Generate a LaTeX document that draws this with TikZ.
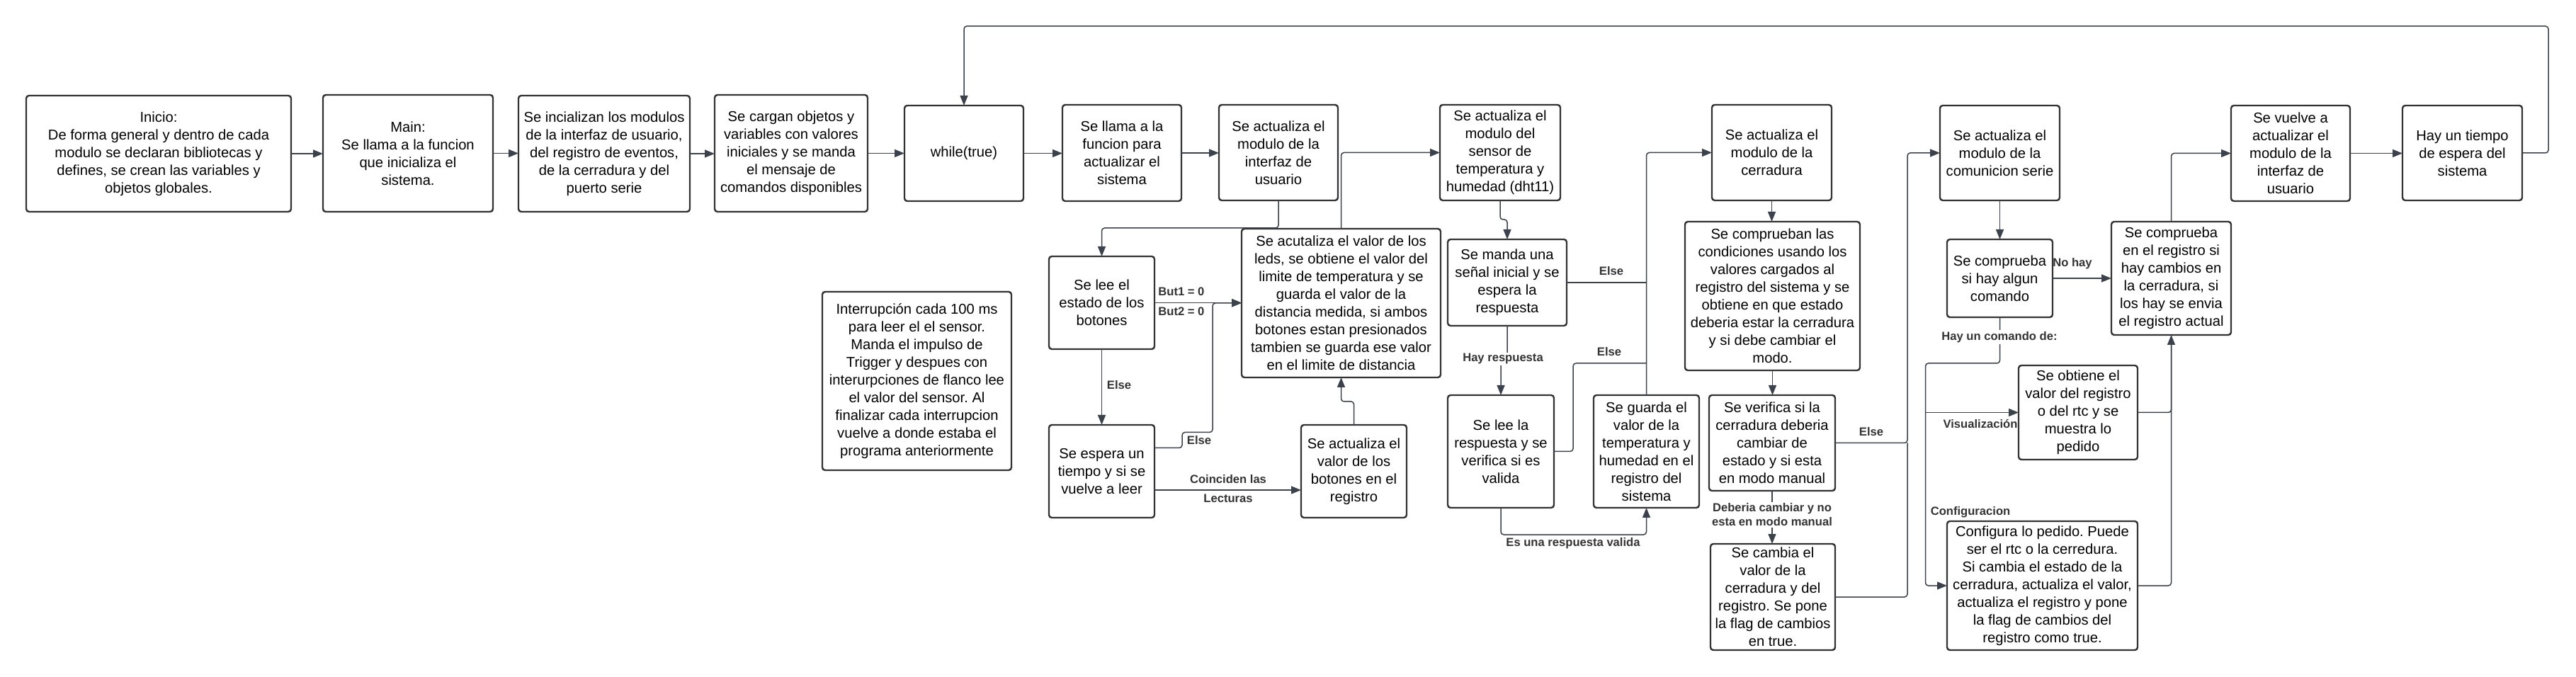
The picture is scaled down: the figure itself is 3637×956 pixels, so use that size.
\documentclass[tikz,border=0pt]{standalone}
\usepackage{fontspec}
\setmainfont{Liberation Sans}
\usetikzlibrary{arrows.meta,calc}
\definecolor{bxc}{RGB}{51,51,51}
\definecolor{lnc}{RGB}{60,66,75}
\definecolor{lbc}{RGB}{51,51,51}
\frenchspacing
\newcommand\mkbox[6]{\node[box, minimum width={(#4-#2)*0.5pt}, minimum height={(#5-#3)*0.5pt}] (#1) at ({(#2+#4)/2},{(#3+#5)/2}) {#6};}
\begin{document}
\begin{tikzpicture}[x=0.5pt,y=-0.5pt,
  box/.style={draw=bxc, line width=1.2pt, rounded corners=2pt, fill=white, align=center, inner sep=0pt, outer sep=0pt, font=\fontsize{10.1pt}{12.5pt}\selectfont},
  conn/.style={draw=lnc, line width=0.75pt, rounded corners=2pt, -{Triangle[length=7pt,width=5.5pt]}},
  plain/.style={draw=lnc, line width=0.75pt, rounded corners=2pt},
  lbl/.style={text=lbc, font=\fontsize{8.3pt}{10pt}\selectfont\bfseries, inner sep=1pt, align=center},
  lblw/.style={lbl, fill=white}]
\fill[white] (0,0) rectangle (3637,956);
\useasboundingbox (0,0) rectangle (3637,956);

% top row
\mkbox{A}{37}{135}{411}{299}{Inicio:\\De forma general y dentro de cada\\modulo se declaran bibliotecas y\\defines, se crean las variables y\\objetos globales.}
\mkbox{B}{456}{134}{696}{299}{Main:\\Se llama a la funcion\\que inicializa el\\sistema.}
\mkbox{C}{732}{135}{974}{299}{Se incializan los modulos\\de la interfaz de usuario,\\del registro de eventos,\\de la cerradura y del\\puerto serie}
\mkbox{D}{1009}{134}{1225}{299}{Se cargan objetos y\\variables con valores\\iniciales y se manda\\el mensaje de\\comandos disponibles}
\mkbox{E}{1277}{149}{1445}{284}{while(true)}
\mkbox{F}{1500}{148}{1668}{284}{Se llama a la\\funcion para\\actualizar el\\sistema}
\mkbox{G}{1721}{148}{1889}{283}{Se actualiza el\\modulo de la\\interfaz de\\usuario}
\mkbox{H}{2033}{148}{2203}{283}{Se actualiza el\\modulo del\\sensor de\\temperatura y\\humedad (dht11)}
\mkbox{I}{2417}{148}{2586}{283}{Se actualiza el\\modulo de la\\cerradura}
\mkbox{J}{2739}{149}{2908}{283}{Se actualiza el\\modulo de la\\comunicion serie}
\mkbox{K}{3150}{149}{3318}{284}{Se vuelve a\\actualizar el\\modulo de la\\interfaz de\\usuario}
\mkbox{L}{3392}{149}{3561}{283}{Hay un tiempo\\de espera del\\sistema}

% lower boxes
\mkbox{M}{1161}{412}{1428}{664}{Interrupción cada 100 ms\\para leer el el sensor.\\Manda el impulso de\\Trigger y despues con\\interurpciones de flanco lee\\el valor del sensor. Al\\finalizar cada interrupcion\\vuelve a donde estaba el\\programa anteriormente}
\mkbox{N}{1481}{362}{1630}{493}{Se lee el\\estado de los\\botones}
\mkbox{O}{1753}{323}{2034}{533}{Se acutaliza el valor de los\\leds, se obtiene el valor del\\limite de temperatura y se\\guarda el valor de la\\distancia medida, si ambos\\botones estan presionados\\tambien se guarda ese valor\\en el limite de distancia}
\mkbox{P}{1481}{600}{1630}{731}{Se espera un\\tiempo y si se\\vuelve a leer}
\mkbox{Q}{1837}{600}{1986}{731}{Se actualiza el\\valor de los\\botones en el\\registro}
\mkbox{R}{2044}{338}{2212}{460}{Se manda una\\señal inicial y se\\espera la\\respuesta}
\mkbox{S}{2044}{558}{2194}{717}{Se lee la\\respuesta y se\\verifica si es\\valida}
\mkbox{T}{2250}{558}{2399}{717}{Se guarda el\\valor de la\\temperatura y\\humedad en el\\registro del\\sistema}
\mkbox{U}{2379}{313}{2626}{523}{Se comprueban las\\condiciones usando los\\valores cargados al\\registro del sistema y se\\obtiene en que estado\\deberia estar la cerradura\\y si debe cambiar el\\modo.}
\mkbox{V}{2413}{558}{2591}{693}{Se verifica si la\\cerradura deberia\\cambiar de\\estado y si esta\\en modo manual}
\mkbox{W}{2415}{768}{2591}{918}{Se cambia el\\valor de la\\cerradura y del\\registro. Se pone\\la flag de cambios\\en true.}
\mkbox{X}{2749}{338}{2898}{448}{Se comprueba\\si hay algun\\comando}
\mkbox{Y}{2981}{313}{3150}{473}{Se comprueba\\en el registro si\\hay cambios en\\la cerradura, si\\los hay se envia\\el registro actual}
\mkbox{Z}{2850}{516}{3018}{649}{Se obtiene el\\valor del registro\\o del rtc y se\\muestra lo\\pedido}
\mkbox{AA}{2749}{736}{3018}{918}{Configura lo pedido. Puede\\ser el rtc o la cerredura.\\Si cambia el estado de la\\cerradura, actualiza el valor,\\actualiza el registro y pone\\la flag de cambios del\\registro como true.}

\coordinate (j1) at (2324.5,513);
\coordinate (br) at (2718.5,582.5);

% top row connectors
\draw[conn] (A.east) -- (A.east -| B.west);
\draw[conn] (B.east) -- (B.east -| C.west);
\draw[conn] (C.east) -- (C.east -| D.west);
\draw[conn] (D.east) -- (D.east -| E.west);
\draw[conn] (E.east) -- (E.east -| F.west);
\draw[conn] (F.east) -- (F.east -| G.west);
\draw[conn] (K.east) -- (K.east -| L.west);
\draw[conn] (L.east) -- ++(37,0) -- ++(0,-179) -| (E.north);

% UI module branch
\draw[conn] (G.south) -- ++(0,39) -| (N.north);
\draw[conn] (N.east) -- (N.east -| O.west);
\draw[conn] (N.south) -- (P.north);
\draw[conn] ($(P.east)+(0,-33)$) -- ++(39,0) -- ++(0,-22) -- ++(43,0) |- (O.west);
\draw[conn] ($(P.east)+(0,26.5)$) -- ($(Q.west)+(0,26.5)$);
\draw[conn] (Q.north) -- ++(0,-33) -| (O.south);
\draw[conn] (O.north) |- (H.west);

% sensor branch
\draw[conn] (H.south) -- ++(0,27) -| (R.north);
\draw[plain] (R.east) -- (R.east -| T.north);
\draw[conn] (R.south) -- ++(0,47) -| (S.north);
\draw[plain] (S.east) -- ++(27,0) |- (j1);
\draw[conn] (S.south) -- ++(0,38) -| (T.south);
\draw[conn] (T.north) |- (I.west);

% lock branch
\draw[conn] (I.south) -- (I.south |- U.north);
\draw[conn] (U.south) -- (U.south |- V.north);
\draw[conn] (V.south) -- (V.south |- W.north);
\draw[conn] (V.east) -- ++(102,0) |- (J.west);
\draw[plain] (W.east) -| ($(V.east)+(102,0)$);

% serial branch
\draw[conn] (J.south) -- (J.south |- X.north);
\draw[conn] (X.east) -- (X.east -| Y.west);
\draw[conn] (X.south) -- ++(0,65) -- ++(-105,0) |- (AA.west);
\draw[conn] (br) -- (Z.west);
\draw[conn] (Z.east) -| (Y.south);
\draw[plain] (AA.east) -| (Y.south);
\draw[conn] (Y.north) |- (K.west);

% labels
\node[lbl, anchor=west] (lb1) at (1633,412) {But1 = 0};
\node[lbl, anchor=west] (lb2) at (1633,440) {But2 = 0};
\node[lbl] (lb3) at (1580,544) {Else};
\node[lbl] (lb4) at (1693,622) {Else};
\node[lbl] (lb5) at (1734,677) {Coinciden las};
\node[lbl] (lb6) at (1734,704) {Lecturas};
\node[lbl] (lb7) at (2275,383) {Else};
\node[lblw] (lb8) at (2122,507) {Hay respuesta};
\node[lbl] (lb9) at (2272,497) {Else};
\node[lbl] (lb10) at (2221,767) {Es una respuesta valida};
\node[lblw] (lb11) at (2502,727) {Deberia cambiar y no\\esta en modo manual};
\node[lbl] (lb12) at (2642,610) {Else};
\node[lbl] (lb13) at (2926,372) {No hay};
\node[lblw] (lb14) at (2823,476) {Hay un comando de:};
\node[lbl] (lb15) at (2796,598) {Visualización};
\node[lbl] (lb16) at (2782,723) {Configuracion};
\end{tikzpicture}
\end{document}
